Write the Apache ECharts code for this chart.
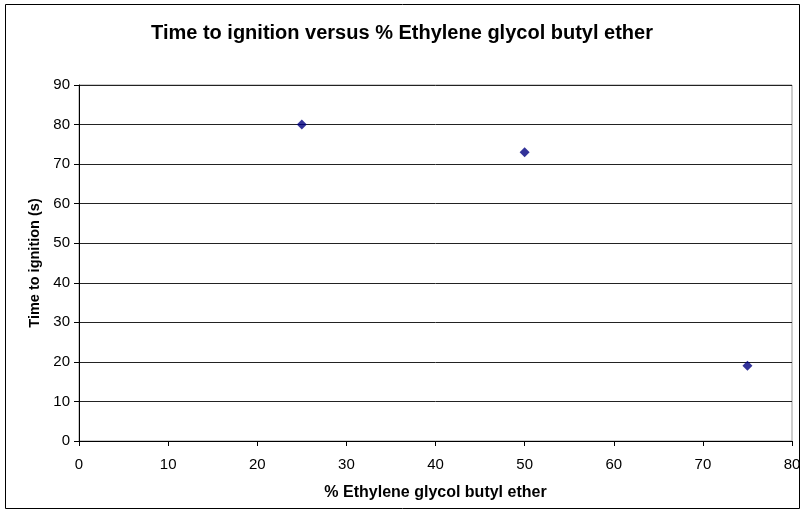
<!DOCTYPE html>
<html><head><meta charset="utf-8">
<script src="https://cdn.jsdelivr.net/npm/echarts@6/dist/echarts.min.js"></script>
<style>html,body{margin:0;padding:0;background:#fff}#c{width:804px;height:519px}</style>
</head><body><div id="c"></div>
<script>
var percentGlycol = [25, 50, 75];
var timeToIgnition = [80, 73, 19];
var xTicks = [0, 10, 20, 30, 40, 50, 60, 70, 80];
var yTicks = [0, 10, 20, 30, 40, 50, 60, 70, 80, 90];
var titleText = 'Time to ignition versus % Ethylene glycol butyl ether';
var xName = '% Ethylene glycol butyl ether';
var yName = 'Time to ignition (s)';

var chart = echarts.init(document.getElementById('c'), null, {renderer: 'canvas'});
var font = 'Liberation Sans, Arial, sans-serif';
chart.setOption({
  animation: false,
  backgroundColor: '#fff',
  graphic: [{type: 'rect', shape: {x: 5.5, y: 4.5, width: 794, height: 504}, style: {fill: 'none', stroke: '#000', lineWidth: 1}, z: -1}],
  title: {text: titleText, left: 'center', top: 18, textStyle: {fontFamily: font, fontSize: 20, fontWeight: 'bold', color: '#000'}},
  grid: {left: 79, right: 12, top: 85, bottom: 78, show: true, borderColor: '#999', borderWidth: 1},
  xAxis: {
    type: 'value', min: xTicks[0], max: xTicks[xTicks.length - 1], interval: xTicks[1] - xTicks[0],
    name: xName, nameLocation: 'middle', nameGap: 44,
    nameTextStyle: {fontFamily: font, fontSize: 16, fontWeight: 'bold', color: '#000'},
    axisLine: {lineStyle: {color: '#000'}}, axisTick: {show: true, length: 5, lineStyle: {color: '#000'}},
    axisLabel: {fontFamily: font, fontSize: 15, color: '#000', margin: 16},
    splitLine: {show: false}
  },
  yAxis: {
    type: 'value', min: yTicks[0], max: yTicks[yTicks.length - 1], interval: yTicks[1] - yTicks[0],
    name: yName, nameLocation: 'middle', nameGap: 37, nameRotate: 90,
    nameTextStyle: {fontFamily: font, fontSize: 14.5, fontWeight: 'bold', color: '#000'},
    axisLine: {show: true, lineStyle: {color: '#000'}}, axisTick: {show: true, length: 5, lineStyle: {color: '#000'}},
    axisLabel: {fontFamily: font, fontSize: 15, color: '#000', margin: 9},
    splitLine: {show: true, lineStyle: {color: '#222', width: 1}}
  },
  series: [{
    type: 'scatter', symbol: 'diamond', symbolSize: 10,
    itemStyle: {color: '#000080'},
    data: percentGlycol.map(function (x, i) { return [x, timeToIgnition[i]]; })
  }]
});
</script></body></html>
